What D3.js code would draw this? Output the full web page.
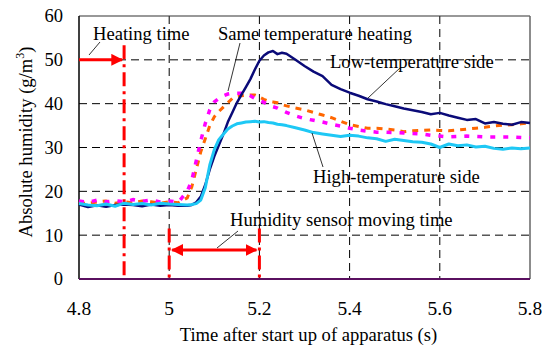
<!DOCTYPE html>
<html><head><meta charset="utf-8">
<script src="https://cdn.jsdelivr.net/npm/d3@7"></script>
<style>body{margin:0;background:#fff}svg{display:block}text{font-family:"Liberation Serif","Times New Roman",serif;fill:#000}</style>
</head><body>
<svg id="c" width="542" height="345"></svg>
<script>
const times = [4.80,4.82,4.84,4.86,4.88,4.90,4.92,4.94,4.96,4.98,5.00,5.02,5.04,
5.05,5.06,5.07,5.08,5.09,5.10,5.11,5.12,5.13,5.14,5.15,5.16,5.17,5.18,5.19,5.20,5.21,5.22,5.23,5.24,5.25,5.26,
5.28,5.30,5.32,5.34,5.36,5.38,5.40,5.42,5.44,5.46,5.48,5.50,5.52,5.54,5.56,5.58,5.60,5.62,5.64,5.66,5.68,5.70,5.72,5.74,5.76,5.78,5.80];
const lowTempSide = [17.0,16.4,16.8,16.5,16.9,17.0,16.9,16.6,17.0,16.7,16.9,16.7,16.7,
16.9,17.5,18.8,21.5,25.0,28.0,30.5,33.0,35.8,38.0,40.2,42.0,43.8,45.6,47.8,49.8,51.0,51.7,52.0,51.3,51.6,51.4,
50.0,48.6,47.3,46.3,44.3,43.3,42.5,41.8,41.0,40.5,39.9,39.4,38.9,38.5,38.1,37.6,37.9,37.3,36.8,36.3,36.5,35.5,35.8,35.4,35.2,35.8,35.6];
const highTempSide = [17.2,16.9,16.7,17.1,16.6,17.3,17.0,17.2,16.9,17.3,17.1,17.0,16.9,
17.0,17.2,18.0,20.8,26.0,29.5,31.8,33.0,34.2,34.9,35.4,35.6,35.8,35.9,36.0,35.8,35.9,35.7,35.6,35.3,35.2,35.0,
34.5,34.0,33.4,33.1,32.8,32.5,32.8,32.6,32.2,32.0,31.4,31.9,31.6,31.3,31.2,30.8,30.0,30.8,30.4,30.6,30.1,30.3,29.8,29.6,29.9,29.7,29.9];
const sameHeatingA = [17.5,17.2,17.6,17.8,17.3,17.6,17.4,17.8,17.6,17.3,17.6,17.4,18.5,
21.0,25.0,29.0,32.0,35.0,37.0,38.2,39.2,40.2,41.2,41.6,41.8,41.9,42.0,42.0,41.5,41.0,40.6,40.4,40.2,39.8,39.5,
39.0,38.6,38.0,37.4,36.8,36.0,35.2,34.8,34.4,34.4,34.2,34.0,33.6,33.8,33.9,34.0,33.9,33.8,34.0,34.2,34.4,34.6,34.9,35.1,35.2,35.4,35.6];
const sameHeatingB = [17.8,17.5,18.0,17.6,17.9,17.6,18.1,17.7,18.0,17.6,17.8,17.5,20.0,
22.5,27.0,31.5,35.5,38.6,40.4,41.2,41.8,42.2,42.4,42.4,42.4,42.3,41.8,41.2,40.8,40.3,39.8,39.3,39.0,38.5,38.0,
37.2,36.6,36.2,35.8,35.3,34.9,34.4,34.0,33.7,33.5,33.5,33.4,33.3,33.2,33.1,32.8,32.6,32.4,32.5,32.6,32.5,32.4,32.4,32.4,32.4,32.3,32.2];
const xTicks = [4.8,5,5.2,5.4,5.6,5.8];
const xTickLabels = ["4.8","5","5.2","5.4","5.6","5.8"];
const yTicks = [0,10,20,30,40,50,60];
const heatingTime = 4.9;
const sensorStart = 5.0, sensorEnd = 5.2;
const sensorArrowLevel = 6.6;
const heatingArrowLevel = 50;

const svg = d3.select("#c");
const L = 79, R = 530, T = 16, B = 279;
const x = d3.scaleLinear().domain([4.8,5.8]).range([L,R]);
const y = d3.scaleLinear().domain([0,60]).range([B,T]);
const FS = 18.6;

// grid
const g = svg.append("g");
g.selectAll(".hg").data(yTicks.filter(v=>v>0&&v<60)).enter().append("line")
 .attr("x1",L).attr("x2",R).attr("y1",d=>y(d)).attr("y2",d=>y(d))
 .attr("stroke","#000").attr("stroke-width",1).attr("stroke-dasharray","8,5");
g.selectAll(".vg").data(xTicks.filter(v=>v>4.8&&v<5.8)).enter().append("line")
 .attr("y1",T).attr("y2",B).attr("x1",d=>x(d)).attr("x2",d=>x(d))
 .attr("stroke","#000").attr("stroke-width",1).attr("stroke-dasharray","8,5");

// frame
svg.append("line").attr("x1",L).attr("x2",R).attr("y1",T).attr("y2",T).attr("stroke","#333").attr("stroke-width",1.2);
svg.append("line").attr("x1",R).attr("x2",R).attr("y1",T).attr("y2",B).attr("stroke","#666").attr("stroke-width",1.5);
svg.append("line").attr("x1",L).attr("x2",L).attr("y1",T).attr("y2",B).attr("stroke","#000").attr("stroke-width",1.5);

// red markers
const red = "#ff0000";
svg.append("line").attr("x1",x(heatingTime)).attr("x2",x(heatingTime)).attr("y1",y(53.3)).attr("y2",B)
 .attr("stroke",red).attr("stroke-width",3).attr("stroke-dasharray","14,5,3,5");
svg.append("line").attr("x1",x(sensorStart)).attr("x2",x(sensorStart)).attr("y1",y(11.5)).attr("y2",B)
 .attr("stroke",red).attr("stroke-width",3).attr("stroke-dasharray","14,5,3,5");
svg.append("line").attr("x1",x(sensorEnd)).attr("x2",x(sensorEnd)).attr("y1",y(11.5)).attr("y2",B)
 .attr("stroke",red).attr("stroke-width",3).attr("stroke-dasharray","14,5,3,5");

const defs = svg.append("defs");
function marker(id, orient){
  defs.append("marker").attr("id",id).attr("viewBox","0 0 10 10").attr("refX",9).attr("refY",5)
   .attr("markerWidth",4).attr("markerHeight",4).attr("orient",orient).attr("markerUnits","strokeWidth")
   .append("path").attr("d","M0,0L10,5L0,10z").attr("fill",red);
}
marker("ah","auto"); marker("ahs","auto-start-reverse");
svg.append("line").attr("x1",L).attr("x2",x(heatingTime)-2).attr("y1",y(heatingArrowLevel)).attr("y2",y(heatingArrowLevel))
 .attr("stroke",red).attr("stroke-width",3).attr("marker-end","url(#ah)");
svg.append("line").attr("x1",x(sensorStart)+3).attr("x2",x(sensorEnd)-3).attr("y1",y(sensorArrowLevel)).attr("y2",y(sensorArrowLevel))
 .attr("stroke",red).attr("stroke-width",3).attr("marker-end","url(#ah)").attr("marker-start","url(#ahs)");

// bottom axis line
svg.append("line").attr("x1",L).attr("x2",R).attr("y1",B).attr("y2",B).attr("stroke","#5a1060").attr("stroke-width",2);

// series
const line = vals => d3.line().x((d,i)=>x(times[i])).y(d=>y(d))(vals);
svg.append("path").attr("d",line(sameHeatingA)).attr("fill","none").attr("stroke","#ff6600").attr("stroke-width",3).attr("stroke-dasharray","6,6");
svg.append("path").attr("d",line(sameHeatingB)).attr("fill","none").attr("stroke","#ff00ff").attr("stroke-width",3.5).attr("stroke-dasharray","5,8");
svg.append("path").attr("d",line(lowTempSide)).attr("fill","none").attr("stroke","#0a0a78").attr("stroke-width",2.5).attr("stroke-linejoin","round");
svg.append("path").attr("d",line(highTempSide)).attr("fill","none").attr("stroke","#1ec8f5").attr("stroke-width",3).attr("stroke-linejoin","round");

// axes labels
svg.selectAll(".yt").data(yTicks).enter().append("text")
 .attr("x",L-16).attr("y",d=>y(d)).attr("dy","0.35em").attr("text-anchor","end").attr("font-size",18.5).text(d=>d);
svg.selectAll(".xt").data(xTicks).enter().append("text")
 .attr("x",d=>x(d)).attr("y",315).attr("text-anchor","middle").attr("font-size",19.5).text((d,i)=>xTickLabels[i]);
svg.append("text").attr("x",(L+R)/2+4).attr("y",341).attr("text-anchor","middle").attr("font-size",FS).text("Time after start up of apparatus (s)");
const yt = svg.append("text").attr("transform","translate(32,142) rotate(-90)").attr("text-anchor","middle").attr("font-size",FS);
yt.append("tspan").text("Absolute humidity (g/m");
yt.append("tspan").attr("font-size",12).attr("dy",-8).text("3");
yt.append("tspan").attr("dy",8).text(")");

// annotations
function ann(txt, tx, ty, x1, y1, x2, y2){
  svg.append("line").attr("x1",x1).attr("y1",y1).attr("x2",x2).attr("y2",y2).attr("stroke","#000").attr("stroke-width",0.8);
  svg.append("text").attr("x",tx).attr("y",ty).attr("font-size",FS).text(txt);
}
ann("Heating time", 93, 40, 100, 42, 89, 55);
ann("Same temperature heating", 218, 40, 240, 43, 228, 91);
ann("Low-temperature side", 330, 68, 401, 67, 368, 98);
ann("High-temperature side", 313, 183, 323, 167, 312, 133);
ann("Humidity sensor moving time", 230, 226, 238, 231, 217, 248);
</script>
</body></html>
